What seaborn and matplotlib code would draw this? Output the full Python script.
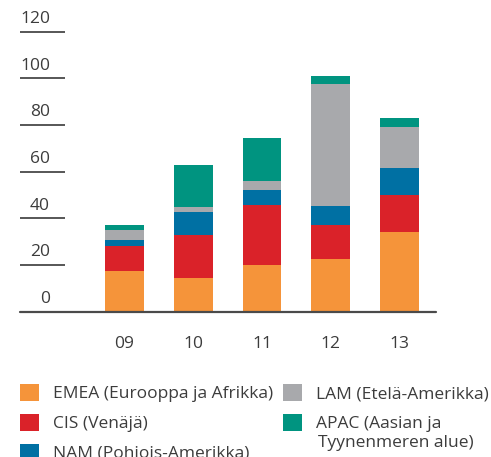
import matplotlib
matplotlib.use("Agg")
import matplotlib.pyplot as plt
import seaborn as sns
import numpy as np
import pandas as pd
from matplotlib.patches import Patch
from matplotlib.transforms import blended_transform_factory, ScaledTranslation

# ---- data ----
years = ["09", "10", "11", "12", "13"]
emea = [17.3, 14.3, 19.9, 22.4, 34.0]
cis = [10.9, 18.4, 25.7, 14.6, 15.9]
nam = [2.4, 9.9, 6.5, 8.2, 11.6]
lam = [4.3, 2.2, 3.8, 52.4, 17.6]
apac = [2.1, 18.0, 18.5, 3.4, 3.9]
series_names = ["EMEA (Eurooppa ja Afrikka)", "CIS (Venäjä)", "NAM (Pohjois-Amerikka)",
                "LAM (Etelä-Amerikka)", "APAC (Aasian ja\nTyynenmeren alue)"]
yticks = [0, 20, 40, 60, 80, 100, 120]

colors = ["#F5943A", "#DA2229", "#0070A3", "#A8A9AC", "#009480"]

sns.set_theme(style="white")
plt.rcParams["font.family"] = ["Open Sans", "DejaVu Sans"]
textc = "#3c3c3c"
fs = 12.5

W, H = 491, 457
fig = plt.figure(figsize=(W / 100, H / 100), dpi=100)
left_px, right_px = 20, 436
bot_px, top_px = 311.5, 31.7
ax = fig.add_axes([left_px / W, (H - bot_px) / H, (right_px - left_px) / W, (bot_px - top_px) / H])

df = pd.DataFrame({"year": years, "EMEA": emea, "CIS": cis, "NAM": nam, "LAM": lam, "APAC": apac})
cols = ["EMEA", "CIS", "NAM", "LAM", "APAC"]
bottom = np.zeros(len(years))
for c, col in zip(cols, colors):
    sns.barplot(data=df, x="year", y=c, color=col, width=0.567, bottom=bottom,
                ax=ax, saturation=1, linewidth=0, edgecolor="none")
    bottom = bottom + df[c].to_numpy()

# positions
pitch = 68.75
ax.set_xlim(-(124.5 - left_px) / pitch, 4 + (right_px - 399.5) / pitch)
ax.set_ylim(0, 120)
for s in ax.spines.values():
    s.set_visible(False)
ax.set_xlabel("")
ax.set_ylabel("")
ax.grid(False)

# y ticks: short lines with labels sitting above
ax.set_yticks(yticks)
ax.set_yticklabels([])
ax.tick_params(axis="y", left=True, direction="in", length=45 * 0.72, width=1.2,
               color="#3a3a3a", pad=0)
tr = blended_transform_factory(ax.transAxes, ax.transData) + ScaledTranslation(30 / 100, 12.5 / 100, fig.dpi_scale_trans)
for t in yticks:
    ax.text(0, t, str(t), transform=tr, ha="right", va="center", fontsize=fs, color=textc)

# x axis
ax.tick_params(axis="x", bottom=False, length=0, pad=18, labelsize=fs, labelcolor=textc)
ax.axhline(0, color="#4a4a4a", lw=1.6, zorder=5, clip_on=False)

# legend
handles = [Patch(facecolor=c, edgecolor="none") for c in colors]
apac_lines = series_names[4].split("\n")
labels = series_names[:4] + [apac_lines[0]]
fs_px = fs * 100 / 72
leg = fig.legend(handles, labels, loc="upper left", bbox_to_anchor=(20 / W, 1 - 384 / H),
                 ncol=2, frameon=False, fontsize=fs, borderpad=0, borderaxespad=0,
                 handlelength=19 / fs_px, handleheight=19 / fs_px, handletextpad=14 / fs_px,
                 labelspacing=0.68, columnspacing=10 / fs_px, labelcolor=textc)
fig.text(318 / W, 1 - 443 / H, apac_lines[1], ha="left", va="center", fontsize=fs, color=textc)

fig.savefig("out.png", dpi=100)
